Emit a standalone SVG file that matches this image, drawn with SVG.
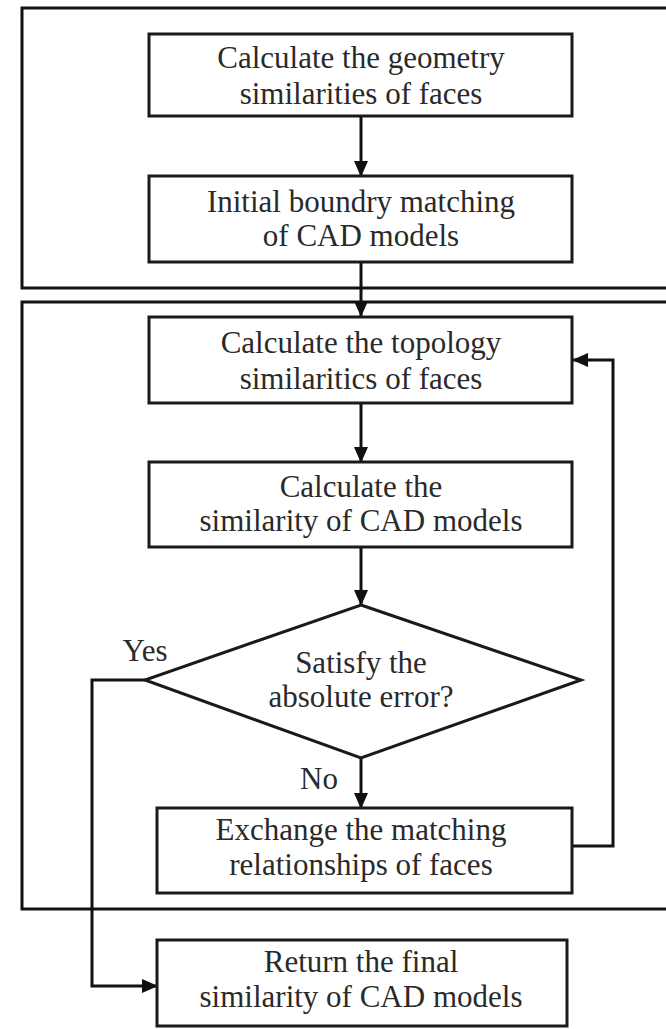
<svg xmlns="http://www.w3.org/2000/svg" width="666" height="1029" viewBox="0 0 666 1029">
  <style>
    .frame { fill: none; stroke: #111; stroke-width: 3; }
    .box { fill: #fff; stroke: #1a1a1a; stroke-width: 3; }
    .link { fill: none; stroke: #111; stroke-width: 3; }
    text { font-family: "Liberation Serif", "Times New Roman", serif; font-size: 31px; fill: #2a2a2a; text-anchor: middle; }
  </style>
  <defs>
    <marker id="arrow" markerWidth="16" markerHeight="16" refX="15" refY="8" orient="auto" markerUnits="userSpaceOnUse">
      <path d="M0,1 L16,8 L0,15 Z" fill="#111"/>
    </marker>
  </defs>
  <rect width="666" height="1029" fill="#fff"/>

  <!-- stage frames (open on the right edge) -->
  <g id="frames">
    <rect class="frame" x="22" y="8" width="680" height="280"/>
    <rect class="frame" x="22" y="302" width="680" height="607"/>
  </g>

  <!-- connectors -->
  <g id="connectors">
    <line class="link" x1="361" y1="116" x2="361" y2="176" marker-end="url(#arrow)"/>
    <line class="link" x1="361" y1="262" x2="361" y2="316" marker-end="url(#arrow)"/>
    <line class="link" x1="361" y1="403" x2="361" y2="462" marker-end="url(#arrow)"/>
    <line class="link" x1="361" y1="547" x2="361" y2="605" marker-end="url(#arrow)"/>
    <line class="link" x1="361" y1="758" x2="361" y2="808" marker-end="url(#arrow)"/>
    <polyline class="link" points="572,846 613,846 613,360 573,360" marker-end="url(#arrow)"/>
    <polyline class="link" points="145,680 92,680 92,986 157,986" marker-end="url(#arrow)"/>
    <text x="145" y="661">Yes</text>
    <text x="319" y="789">No</text>
  </g>

  <g id="geometry-similarity">
    <rect class="box" x="149" y="34" width="423" height="82"/>
    <text x="361" y="68">Calculate the geometry</text>
    <text x="361" y="104">similarities of faces</text>
  </g>

  <g id="initial-matching">
    <rect class="box" x="149" y="176" width="423" height="86"/>
    <text x="361" y="212">Initial boundry matching</text>
    <text x="361" y="246">of CAD models</text>
  </g>

  <g id="topology-similarity">
    <rect class="box" x="149" y="317" width="423" height="86"/>
    <text x="361" y="353">Calculate the topology</text>
    <text x="361" y="389">similaritics of faces</text>
  </g>

  <g id="model-similarity">
    <rect class="box" x="149" y="462" width="423" height="85"/>
    <text x="361" y="497">Calculate the</text>
    <text x="361" y="531">similarity of CAD models</text>
  </g>

  <g id="error-check">
    <polygon class="box" points="361,605 581,680 361,758 145,680"/>
    <text x="361" y="673">Satisfy the</text>
    <text x="361" y="707">absolute error?</text>
  </g>

  <g id="exchange-matching">
    <rect class="box" x="157" y="808" width="415" height="85"/>
    <text x="361" y="840">Exchange the matching</text>
    <text x="361" y="875">relationships of faces</text>
  </g>

  <g id="final-similarity">
    <rect class="box" x="157" y="940" width="410" height="86"/>
    <text x="361" y="972">Return the final</text>
    <text x="361" y="1007">similarity of CAD models</text>
  </g>
</svg>
